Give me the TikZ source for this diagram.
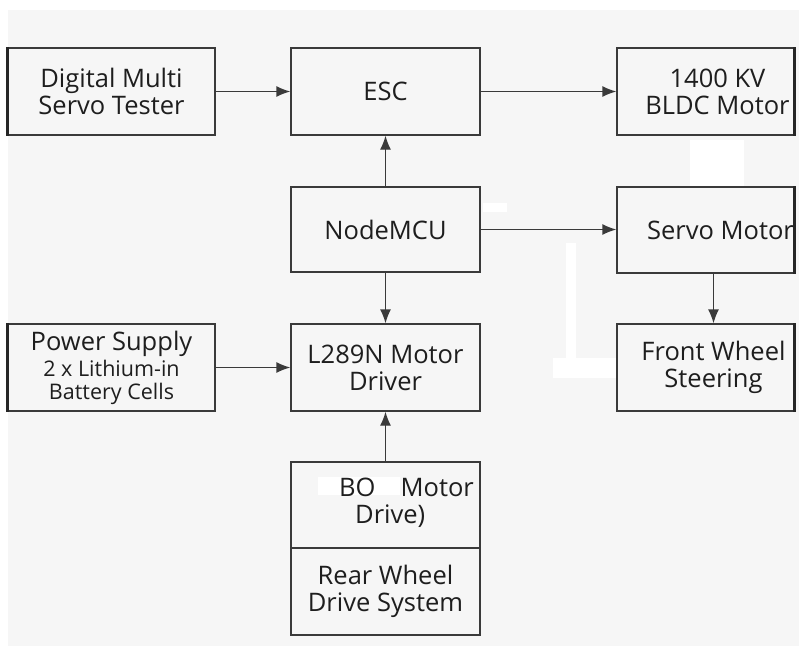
\documentclass[tikz,border=0pt]{standalone}
\usepackage{fontspec}
\setmainfont{Open Sans}
\usetikzlibrary{arrows.meta}
\definecolor{linegray}{HTML}{3A3A3A}
\definecolor{paper}{HTML}{F6F6F6}
\definecolor{ink}{HTML}{1E1E1E}

\begin{document}
\begin{tikzpicture}[x = 1pt, y = -1pt,
    block/.style = {draw=linegray, line width=1.3pt, minimum width=189pt, minimum height=87pt,
                    inner sep=0pt, align=center, text=ink, font=\fontsize{25.5}{27}\selectfont},
    txt/.style = {align=center, text=ink, font=\fontsize{25.5}{27}\selectfont},
    edge/.style = {draw=black!85, line width=3pt},
    link/.style = {draw=linegray, line width=1.3pt, -{Latex[length=14pt, width=11pt]}},
    patch/.style = {fill=white, draw=none}]
          \useasboundingbox (0,0) rectangle (799,646);
          \fill[white] (0,0) rectangle (799,646);
          \fill[paper] (8,10) rectangle (799,646);
          \fill[patch] (690,140) rectangle (744,187);
          \fill[patch] (566,243) rectangle (576,362);
          \fill[patch] (553,358) rectangle (616,378);
          \fill[patch] (483,203) rectangle (507,212);
          \node[block, minimum width=207pt] (tester) at (111.5,91.5) {Digital Multi\\Servo Tester};
          \node[block] (esc) at (385.5,91.5) {ESC};
          \node[block, minimum width=177pt, label={[txt, xshift=12pt]center:1400 KV\\BLDC Motor}] (bldc) at (705.5,91.5) {};
          \node[block, minimum height=85pt] (mcu) at (385.5,229.5) {NodeMCU};
          \node[block, minimum width=177pt, minimum height=86pt, label={[txt, xshift=15pt]center:Servo Motor}] (servo) at (705.5,230) {};
          \node[block, minimum width=207pt, font=\fontsize{21.5}{23}\selectfont] (power) at (111.5,367.5)
               {{\fontsize{25.5}{27}\selectfont Power Supply}\\[3pt]2 x Lithium-in\\Battery Cells};
          \node[block] (driver) at (385.5,367.5) {L289N Motor\\Driver};
          \node[block, minimum width=177pt, label={[txt, xshift=8pt]center:Front Wheel\\Steering}] (wheel) at (705.5,367.5) {};
          \node[block, minimum height=86pt] (bomotor) at (385.5,505) {};
          \fill[patch] (318,477) rectangle (400,495);
          \node[txt, align=left, anchor=north west, inner sep=0pt] (botext) at (339,478)
               {BO\hspace{25pt}Motor\\\hspace*{16pt}Drive)};
          \node[block] (rear) at (385.5,591.5) {Rear Wheel\\Drive System};
          \draw[edge] (tester.north west) -- (tester.south west);
          \draw[edge] (power.north west) -- (power.south west);
          \draw[edge] (bldc.north east) -- (bldc.south east);
          \draw[edge] (servo.north east) -- (servo.south east);
          \draw[edge] (wheel.north east) -- (wheel.south east);
          \draw[link] (tester) -- (esc);
          \draw[link] (esc) -- (bldc);
          \draw[link] (mcu) -- (esc);
          \draw[link] (mcu) -- (mcu -| servo.west);
          \draw[link] (mcu) -- (driver);
          \draw[link] ([xshift=8pt]servo.south) -- ([xshift=8pt]wheel.north);
          \draw[link] (power) -- (driver);
          \draw[link] (bomotor) -- (driver);
        \end{tikzpicture}
\end{document}
